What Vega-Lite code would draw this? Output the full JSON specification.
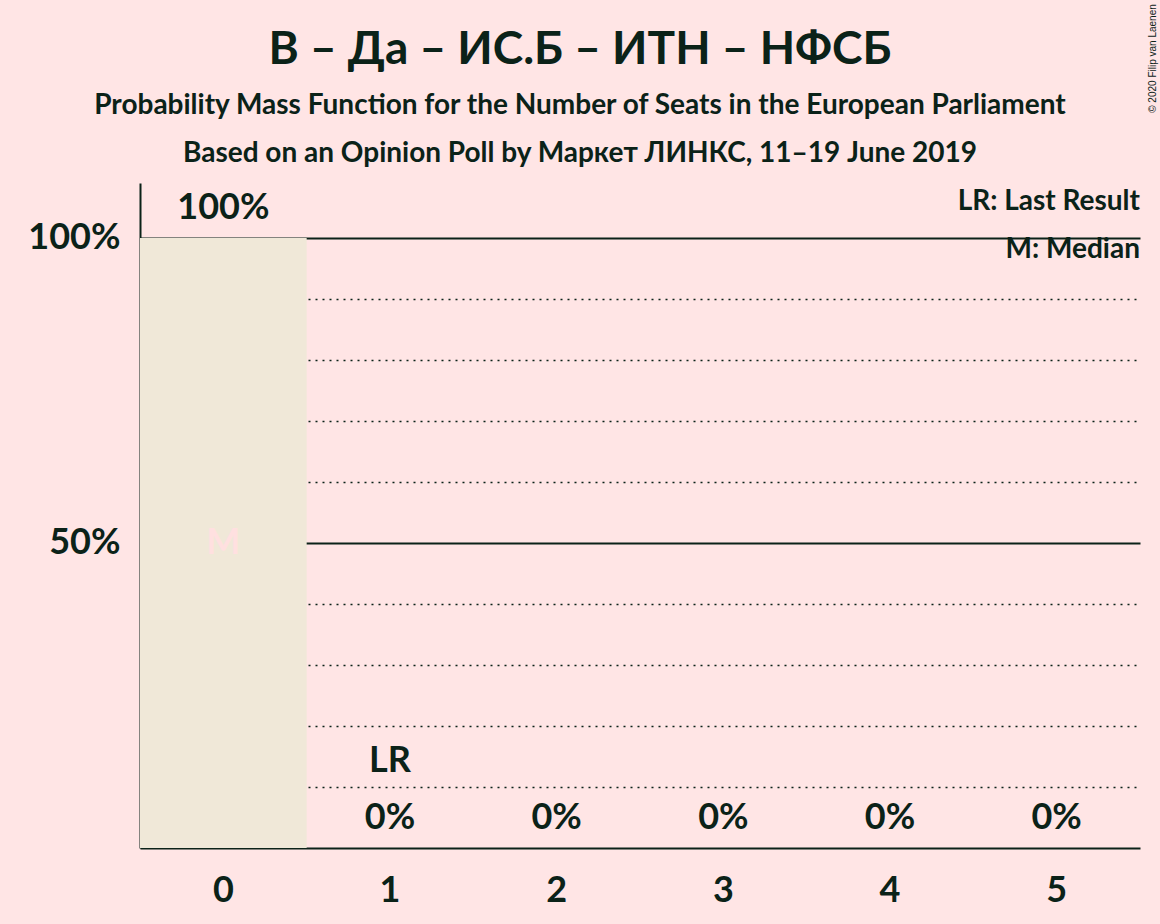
{
  "$schema": "https://vega.github.io/schema/vega-lite/v6.json",
  "width": 1000,
  "height": 665,
  "autosize": {"type": "none"},
  "padding": {"left": 140, "top": 183, "right": 20, "bottom": 76},
  "background": "#FFE5E5",
  "config": {
    "view": {"stroke": null},
    "font": "Lato",
    "text": {"font": "Lato", "fontWeight": "bold", "color": "#0B2218"}
  },
  "title": {
    "text": "В – Да – ИС.Б – ИТН – НФСБ",
    "subtitle": ["Probability Mass Function for the Number of Seats in the European Parliament", "Based on an Opinion Poll by Маркет ЛИНКС, 11–19 June 2019"],
    "anchor": "middle",
    "dx": -60,
    "dy": 173,
    "font": "Lato",
    "fontSize": 46,
    "fontWeight": "bold",
    "color": "#0B2218",
    "subtitleFont": "Lato",
    "subtitleFontSize": 28,
    "subtitleFontWeight": "bold",
    "subtitleColor": "#0B2218",
    "subtitleLineHeight": 48,
    "subtitlePadding": 18,
    "offset": 8
  },
  "data": {
    "values": [
      {"seats": 0, "prob": 100, "label": "100%"},
      {"seats": 1, "prob": 0, "label": "0%"},
      {"seats": 2, "prob": 0, "label": "0%"},
      {"seats": 3, "prob": 0, "label": "0%"},
      {"seats": 4, "prob": 0, "label": "0%"},
      {"seats": 5, "prob": 0, "label": "0%"}
    ]
  },
  "resolve": {"axis": {"y": "independent"}},
  "layer": [
    {
      "mark": {"type": "bar", "color": "#F0E8D8"},
      "encoding": {
        "x": {
          "field": "seats", "type": "ordinal",
          "scale": {"paddingInner": 0, "paddingOuter": 0},
          "axis": {
            "title": null, "labelAngle": 0, "labelFont": "Lato", "labelFontSize": 36,
            "labelFontWeight": "bold", "labelColor": "#0B2218", "labelPadding": 25,
            "ticks": false, "domainColor": "#0B2218", "domainWidth": 2, "grid": false
          }
        },
        "y": {
          "field": "prob", "type": "quantitative",
          "scale": {"domain": [0, 109], "nice": false},
          "axis": {
            "title": null,
            "values": [10, 20, 30, 40, 50, 60, 70, 80, 90, 100],
            "labelExpr": "datum.value % 50 === 0 ? datum.value + '%' : ''",
            "labelFont": "Lato", "labelFontSize": 36, "labelFontWeight": "bold",
            "labelColor": "#0B2218", "labelPadding": 20,
            "ticks": false, "domainColor": "#0B2218", "domainWidth": 2,
            "grid": true, "gridColor": "#0B2218",
            "gridWidth": {"condition": {"test": "datum.value % 50 === 0", "value": 2}, "value": 1.5},
            "gridDash": {"condition": {"test": "datum.value % 50 === 0", "value": []}, "value": [2, 5]}
          }
        }
      }
    },
    {
      "mark": {"type": "text", "baseline": "alphabetic", "dy": -19, "fontSize": 36},
      "encoding": {
        "x": {"field": "seats", "type": "ordinal"},
        "y": {"field": "prob", "type": "quantitative", "axis": {"orient": "right", "title": "© 2020 Filip van Laenen", "titleFont": "Liberation Sans", "titleFontSize": 10, "titleFontWeight": "normal", "titleColor": "#0B2218", "titleAngle": 270, "titleAlign": "center", "titleBaseline": "middle", "titleX": 12, "titleY": -125, "labels": false, "ticks": false, "domain": false, "grid": false}},
        "text": {"field": "label"}
      }
    },
    {
      "data": {"values": [{"seats": 1, "prob": 0, "mark": "LR"}]},
      "mark": {"type": "text", "baseline": "alphabetic", "dy": -76, "fontSize": 36},
      "encoding": {
        "x": {"field": "seats", "type": "ordinal"},
        "y": {"field": "prob", "type": "quantitative", "axis": null},
        "text": {"field": "mark"}
      }
    },
    {
      "data": {"values": [{"seats": 0, "prob": 50, "mark": "M"}]},
      "mark": {"type": "text", "baseline": "middle", "fontSize": 36, "color": "#FFE0E0"},
      "encoding": {
        "x": {"field": "seats", "type": "ordinal"},
        "y": {"field": "prob", "type": "quantitative", "axis": null},
        "text": {"field": "mark"}
      }
    },
    {
      "data": {"values": [{"note": "LR: Last Result"}]},
      "mark": {"type": "text", "baseline": "alphabetic", "align": "right", "dy": 27, "fontSize": 28},
      "encoding": {
        "x": {"datum": 5, "type": "ordinal", "bandPosition": 1},
        "y": {"datum": 109, "type": "quantitative", "axis": null},
        "text": {"field": "note"}
      }
    },
    {
      "data": {"values": [{"note": "M: Median"}]},
      "mark": {"type": "text", "baseline": "alphabetic", "align": "right", "dy": 75, "fontSize": 28},
      "encoding": {
        "x": {"datum": 5, "type": "ordinal", "bandPosition": 1},
        "y": {"datum": 109, "type": "quantitative", "axis": null},
        "text": {"field": "note"}
      }
    }
  ]
}
